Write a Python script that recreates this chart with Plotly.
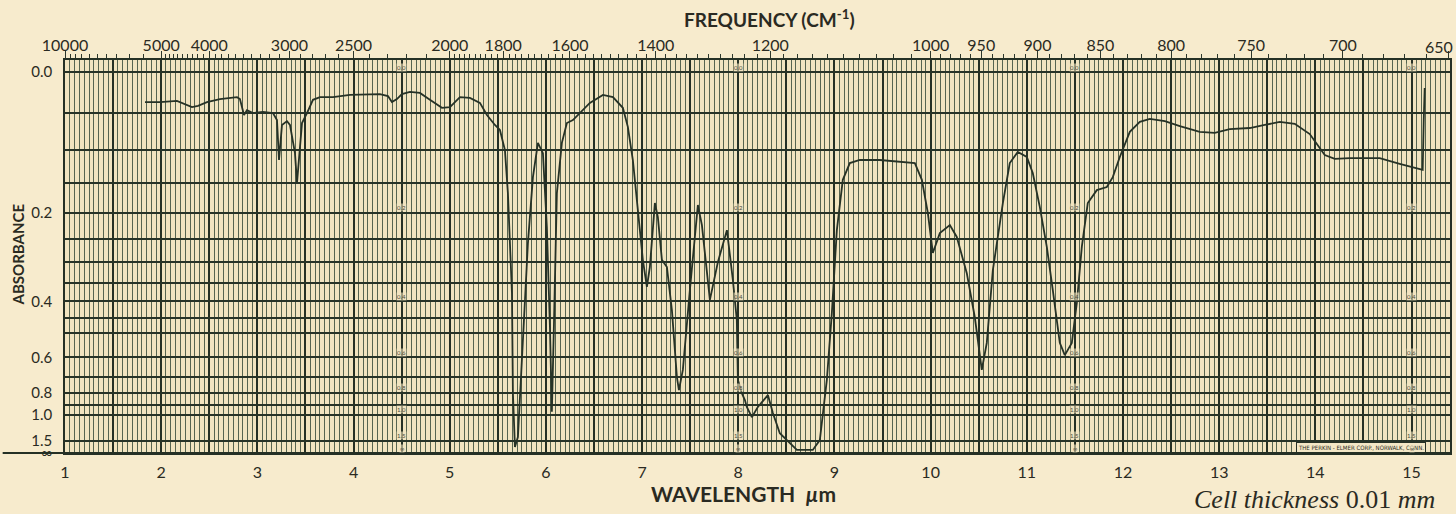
import math
import plotly.graph_objects as go

# ---- spectrum data (wavelength in micrometres, transmittance fraction) ----
wavelength = [
    1.832, 1.988, 2.164, 2.279, 2.320, 2.383, 2.476, 2.611, 2.788, 2.819,
    2.861, 2.892, 2.954, 3.058, 3.162, 3.204, 3.225, 3.256, 3.308, 3.339,
    3.391, 3.412, 3.464, 3.516, 3.578, 3.651, 3.786, 3.963, 4.274, 4.358,
    4.399, 4.451, 4.503, 4.586, 4.690, 4.794, 4.919, 5.002, 5.106, 5.210,
    5.314, 5.387, 5.470, 5.522, 5.574, 5.605, 5.647, 5.657, 5.678, 5.709,
    5.751, 5.782, 5.813, 5.865, 5.917, 5.969, 6.010, 6.042, 6.062, 6.083,
    6.114, 6.166, 6.218, 6.281, 6.353, 6.457, 6.593, 6.697, 6.800, 6.852,
    6.904, 6.956, 7.008, 7.050, 7.081, 7.133, 7.164, 7.206, 7.258, 7.310,
    7.362, 7.383, 7.424, 7.497, 7.580, 7.622, 7.705, 7.788, 7.882, 7.944,
    7.985, 7.996, 8.037, 8.069, 8.089, 8.141, 8.204, 8.308, 8.360, 8.432,
    8.536, 8.609, 8.775, 8.848, 8.921, 8.973, 9.025, 9.087, 9.160, 9.264,
    9.472, 9.680, 9.836, 9.909, 9.971, 10.023, 10.096, 10.200, 10.272, 10.376,
    10.459, 10.532, 10.584, 10.647, 10.751, 10.823, 10.906, 11.000, 11.062, 11.135,
    11.208, 11.270, 11.343, 11.395, 11.468, 11.520, 11.572, 11.634, 11.728, 11.832,
    11.894, 11.967, 12.071, 12.175, 12.279, 12.435, 12.591, 12.798, 12.954, 13.110,
    13.318, 13.474, 13.630, 13.786, 13.942, 14.098, 14.202, 14.358, 14.669, 14.877,
    15.033, 15.116, 15.127, 15.137,
]
transmittance = [
    0.921, 0.921, 0.924, 0.913, 0.908, 0.911, 0.921, 0.929, 0.934, 0.929,
    0.887, 0.900, 0.892, 0.895, 0.892, 0.874, 0.769, 0.861, 0.871, 0.861,
    0.787, 0.709, 0.866, 0.892, 0.927, 0.934, 0.934, 0.940, 0.942, 0.937,
    0.921, 0.929, 0.942, 0.948, 0.945, 0.927, 0.906, 0.908, 0.934, 0.932,
    0.919, 0.887, 0.861, 0.848, 0.795, 0.682, 0.420, 0.157, 0.016, 0.042,
    0.244, 0.420, 0.551, 0.724, 0.814, 0.787, 0.593, 0.331, 0.108, 0.331,
    0.682, 0.814, 0.866, 0.874, 0.892, 0.919, 0.940, 0.934, 0.906, 0.856,
    0.769, 0.638, 0.507, 0.436, 0.488, 0.656, 0.619, 0.507, 0.488, 0.375,
    0.199, 0.165, 0.218, 0.428, 0.651, 0.598, 0.402, 0.501, 0.585, 0.454,
    0.349, 0.192, 0.157, 0.139, 0.121, 0.094, 0.121, 0.152, 0.105, 0.052,
    0.026, 0.008, 0.008, 0.034, 0.192, 0.367, 0.585, 0.717, 0.761, 0.769,
    0.769, 0.764, 0.761, 0.717, 0.630, 0.525, 0.577, 0.598, 0.567, 0.472,
    0.357, 0.218, 0.289, 0.480, 0.656, 0.761, 0.790, 0.777, 0.735, 0.646,
    0.541, 0.428, 0.289, 0.257, 0.289, 0.394, 0.541, 0.656, 0.690, 0.698,
    0.724, 0.777, 0.843, 0.869, 0.877, 0.871, 0.858, 0.843, 0.840, 0.850,
    0.853, 0.861, 0.869, 0.864, 0.837, 0.782, 0.772, 0.774, 0.774, 0.759,
    0.748, 0.743, 0.874, 0.958,
]

# ---- axis definitions ----
wl_range = [1.0, 15.40]
wl_ticks = [1 + 0.5 * i for i in range(29)]          # 1.0 ... 15.0
wl_ticktext = [str(int(v)) if v == int(v) else "" for v in wl_ticks]

abs_grid = [0.0, 0.05, 0.1, 0.15, 0.2, 0.25, 0.3, 0.35, 0.4, 0.45, 0.5,
            0.6, 0.7, 0.8, 0.9, 1.0, 1.5, math.inf]
abs_major = [0.0, 0.2, 0.4, 0.6, 0.8, 1.0, 1.5, math.inf]
abs_labels = ["0.0", "0.2", "0.4", "0.6", "0.8", "1.0", "1.5", "∞"]

freq_major = [10000, 5000, 4000, 3000, 2500, 2000, 1800, 1600, 1400, 1200,
              1000, 950, 900, 850, 800, 750, 700, 650]
freq_text = [str(f) for f in freq_major]
freq_text[-1] = ""          # last label drawn separately so it stays inside the page
freq_minor = (list(range(9500, 5000, -500)) + list(range(4900, 2000, -100))
              + list(range(1980, 1000, -20)) + list(range(990, 650, -10)))
freq_minor = [f for f in freq_minor if f not in freq_major]

inner_label_wl = [4.5, 8.0, 11.5, 15.0]


def a_to_t(a):
    return 0.0 if a == math.inf else 10 ** (-a)


y_grid_vals = [a_to_t(a) for a in abs_grid]
y_grid_text = [abs_labels[abs_major.index(a)] if a in abs_major else "" for a in abs_grid]

INK = "#2c372c"
GRID = "#56644f"
TEXT = "#2a2a22"
FONT = "Lato"

fig = go.Figure()
fig.add_trace(go.Scatter(
    x=wavelength, y=transmittance, mode="lines",
    line=dict(color="#263226", width=1.8), hoverinfo="skip", showlegend=False,
))
# invisible trace to activate top axis
fig.add_trace(go.Scatter(x=wl_range, y=[None, None], xaxis="x2", yaxis="y",
                         mode="lines", showlegend=False, hoverinfo="skip"))

fig.update_layout(
    width=1456, height=514,
    margin=dict(l=65, r=6, t=60, b=61, autoexpand=False),
    paper_bgcolor="#f7ebcd",
    plot_bgcolor="#f1e4c0",
    font=dict(family=FONT, color=TEXT),
    xaxis=dict(
        range=wl_range, tickmode="array", tickvals=wl_ticks, ticktext=wl_ticktext,
        showgrid=True, gridcolor="#253025", gridwidth=1.6, automargin=False,
        minor=dict(dtick=0.05, tick0=1.0, showgrid=True, gridcolor=GRID, gridwidth=1, ticks=""),
        ticks="", ticklabelstandoff=4, tickfont=dict(size=16, family=FONT, color=TEXT),
        showline=True, linecolor="#253025", linewidth=2, zeroline=False,
    ),
    xaxis2=dict(
        range=wl_range, overlaying="x", side="top", automargin=False,
        tickmode="array", tickvals=[10000 / f for f in freq_major],
        ticktext=freq_text,
        ticks="outside", ticklen=7, tickwidth=1.2, tickcolor=INK,
        minor=dict(tickvals=[10000 / f for f in freq_minor], ticks="outside",
                   ticklen=4, tickwidth=1, tickcolor=INK, showgrid=False),
        showgrid=False, zeroline=False, ticklabelstandoff=-6,
        tickfont=dict(size=16, family=FONT, color=TEXT),
        showline=True, linecolor="#253025", linewidth=2,
    ),
    yaxis=dict(
        range=[0, 1.0315], tickmode="array", tickvals=y_grid_vals, ticktext=y_grid_text,
        showgrid=True, gridcolor="#273327", gridwidth=2, automargin=False,
        ticks="", ticklabelstandoff=8, tickfont=dict(size=15, family=FONT, color=TEXT),
        showline=True, linecolor="#253025", linewidth=1.5, mirror=True, zeroline=False,
    ),
)

# "650" top label, right-aligned at the page edge
fig.add_annotation(xref="x", yref="paper", x=10000 / freq_major[-1], y=1.0, yshift=14,
                   xshift=6, xanchor="right", yanchor="middle", showarrow=False,
                   text=str(freq_major[-1]), font=dict(size=16, family=FONT, color=TEXT))

# long baseline extending left to the infinity label
fig.add_shape(type="line", xref="paper", yref="paper", x0=-0.045, x1=1.0, y0=0, y1=0,
              line=dict(color="#253025", width=2))

ann = [
    dict(text="FREQUENCY (CM<sup>-1</sup>)", x=0.509, y=1.105, font=dict(size=19, family=FONT, color=TEXT, weight="bold")),
    dict(text="WAVELENGTH  <i>µ</i>m", x=0.49, y=-0.104, font=dict(size=21, family=FONT, color=TEXT, weight="bold")),
    dict(text="ABSORBANCE", x=-0.034, y=0.505, textangle=-90, font=dict(size=15, family=FONT, color=TEXT, weight="bold")),
    dict(text="<i>Cell thickness</i> 0.01 <i>mm</i>", x=0.902, y=-0.118,
         font=dict(size=26, family="Liberation Serif", color="#2a2a22")),
]
for a in ann:
    fig.add_annotation(xref="paper", yref="paper", showarrow=False,
                       xanchor="center", yanchor="middle", **a)

fig.add_annotation(xref="paper", yref="paper", x=0.936, y=0.0135, showarrow=False,
                   text="THE PERKIN - ELMER CORP., NORWALK, CONN.",
                   font=dict(size=6, family="DejaVu Sans Condensed", color=TEXT),
                   bgcolor="#f3e7c6", bordercolor="#253025", borderwidth=1, borderpad=1,
                   xanchor="center", yanchor="middle")

# tiny in-grid absorbance marks
for wl in inner_label_wl:
    for a, lab in zip(abs_major, abs_labels):
        fig.add_annotation(x=wl, y=a_to_t(a), xref="x", yref="y", text=lab, showarrow=False,
                           font=dict(size=6, family=FONT, color="#4a4a3a"),
                           yshift=5, xshift=0, bgcolor="rgba(241,228,192,0.6)", borderpad=0)

fig.write_html("out.html")
